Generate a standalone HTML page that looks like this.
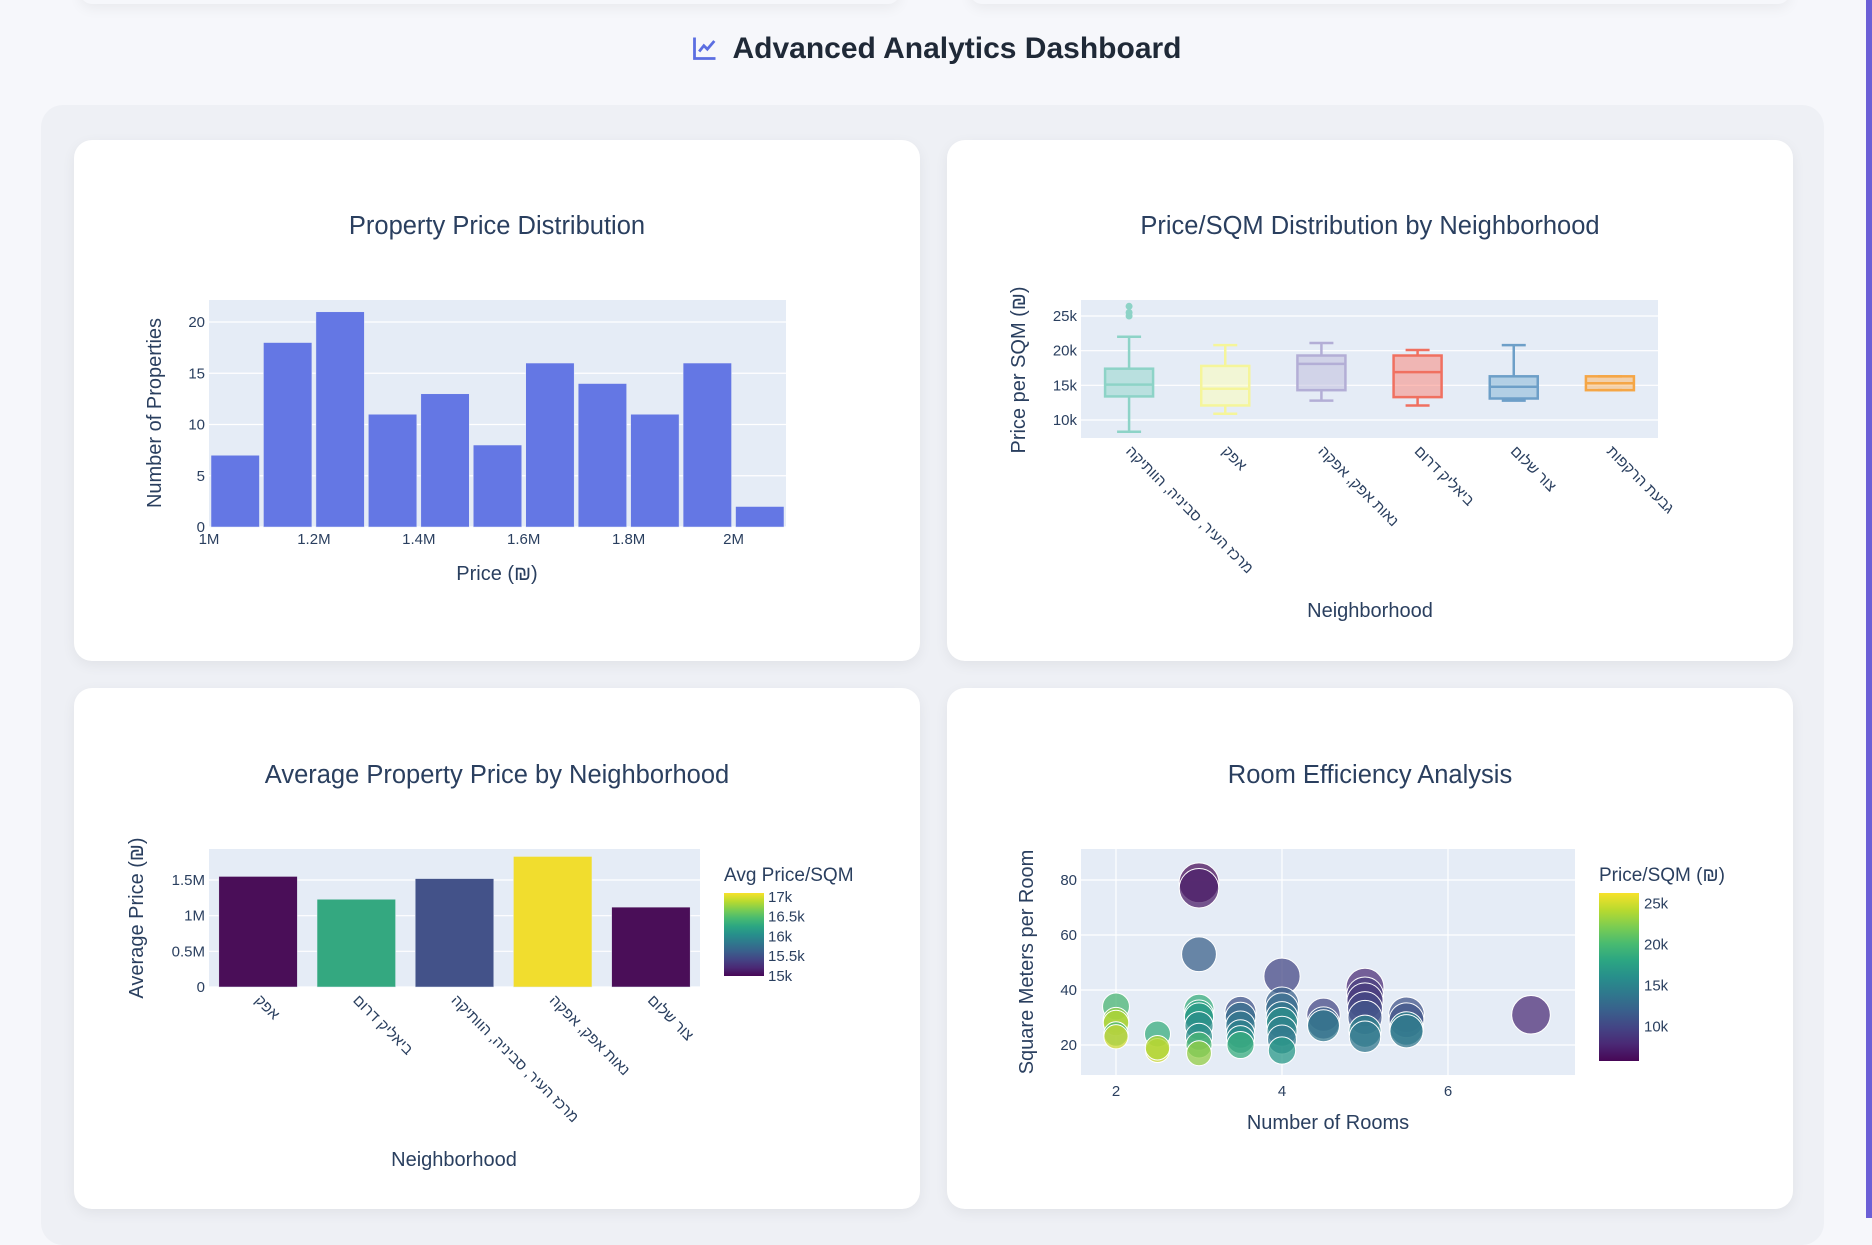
<!DOCTYPE html>
<html><head><meta charset="utf-8">
<style>
body{margin:0;width:1872px;height:1218px;overflow:hidden;background:#f6f7fb;font-family:"Liberation Sans","Noto Sans CJK SC",sans-serif;position:relative}
.card{position:absolute;background:#fff;border-radius:18px;box-shadow:0 4px 14px rgba(0,0,0,0.06)}
#outer{position:absolute;left:41px;top:105px;width:1783px;height:1140px;background:#eef0f5;border-radius:22px}
#title{position:absolute;top:32px;left:0;width:1872px;text-align:center;font-size:30px;font-weight:bold;color:#1f2937}
#sidebar{position:absolute;right:0;top:0;width:6px;height:1218px;background:#6b5fd6}
svg text{font-family:"Liberation Sans","Noto Sans CJK SC",sans-serif;fill:#2a3f5f}
</style></head><body>
<div style="position:absolute;left:80px;top:-20px;width:820px;height:24px;border-radius:12px;box-shadow:0 4px 14px rgba(0,0,0,0.06);background:#f6f7fb"></div>
<div style="position:absolute;left:970px;top:-20px;width:820px;height:24px;border-radius:12px;box-shadow:0 4px 14px rgba(0,0,0,0.06);background:#f6f7fb"></div>
<div id="sidebar"></div>
<div id="title"><svg width="30" height="28" viewBox="0 0 24 24" style="vertical-align:-4px;margin-right:12px"><path d="M3 3v18h18" fill="none" stroke="#5b6ee1" stroke-width="2.4"/><path d="M7 15l4-5 3 3 6-7" fill="none" stroke="#5b6ee1" stroke-width="2.4"/></svg>Advanced Analytics Dashboard</div>
<div id="outer"></div>
<div class="card" style="left:74px;top:140px;width:846px;height:521px"></div>
<div class="card" style="left:947px;top:140px;width:846px;height:521px"></div>
<div class="card" style="left:74px;top:688px;width:846px;height:521px"></div>
<div class="card" style="left:947px;top:688px;width:846px;height:521px"></div>
<svg id="chart" width="1872" height="1218" style="position:absolute;left:0;top:0"></svg>
<script>
// ---- Histogram data
const histBinStarts=[1.0,1.1,1.2,1.3,1.4,1.5,1.6,1.7,1.8,1.9,2.0];
const histCounts=[7,18,21,11,13,8,16,14,11,16,2];
const histXTicks=[1.0,1.2,1.4,1.6,1.8,2.0];
const histXTickLabels=["1M","1.2M","1.4M","1.6M","1.8M","2M"];
const histYTicks=[0,5,10,15,20];
// ---- Box data
const boxCats=["מרכז העיר, סביניה, הוותיקה","אפק","נאות אפק, אפקה","ביאליק דרום","צור שלום","גבעת הרקפות"];
const boxLow=[8.3,10.9,12.8,12.1,12.8,14.3];
const boxQ1=[13.4,12.1,14.3,13.3,13.1,14.3];
const boxMed=[15.1,14.5,18.1,16.9,14.8,15.3];
const boxQ3=[17.4,17.8,19.3,19.3,16.3,16.3];
const boxHigh=[22.0,20.8,21.1,20.1,20.8,16.3];
const boxOutliers=[[26.4,25.5,25.0],[],[],[],[],[]];
const boxYTicks=[10,15,20,25];
// ---- Avg price bars
const avgCats=["אפק","ביאליק דרום","מרכז העיר, סביניה, הוותיקה","נאות אפק, אפקה","צור שלום"];
const avgPrice=[1.55,1.23,1.52,1.83,1.12];
const avgPsqm=[15.0,16.3,15.5,17.1,15.0];
const avgYTicks=[0,0.5,1,1.5];
const avgYTickLabels=["0","0.5M","1M","1.5M"];
const avgCbTicks=[15,15.5,16,16.5,17];
// ---- Scatter data
const scRooms=[2,2,2,2,2,2.5,2.5,2.5,3,3,3,3,3,3,3,3,3,3,3.5,3.5,3.5,3.5,3.5,3.5,4,4,4,4,4,4,4,4,4.5,4.5,4.5,5,5,5,5,5,5,5,5.5,5.5,5.5,5.5,7];
const scSqmPerRoom=[34,29,28,24,23,24,18,19,79,77,53,33,31,30,27,23,20,17,32,30,27,24,22,20,45,35,33,30,28,25,22,18,31,28,27,41,38,36,33,30,25,23,31,29,26,25,31];
const scPsqm=[20,23,24,20,25,19,25,24,6,7,12,19,18,17,16,16,20,23,11,13,14,15,16,19,10,12,13,14,16,15,14,17,10,12,14,8,9,9,10,11,15,14,11,11,15,14,8];
const scXTicks=[2,4,6];
const scYTicks=[20,40,60,80];
const scCbTicks=[10,15,20,25];

const svg=document.getElementById('chart');
const NS='http://www.w3.org/2000/svg';
function mk(tag,attrs,parent){const e=document.createElementNS(NS,tag);for(const k in attrs)e.setAttribute(k,attrs[k]);(parent||svg).appendChild(e);return e;}
function txt(s,attrs,parent){const e=mk('text',attrs,parent);e.textContent=s;return e;}
const VIR=[[68,1,84],[72,40,120],[62,73,137],[49,104,142],[38,130,142],[31,158,137],[53,183,121],[110,206,88],[181,222,43],[253,231,37]];
function viridis(t,m){t=Math.max(0,Math.min(1,t));const p=t*(VIR.length-1);const i=Math.min(VIR.length-2,Math.floor(p));const f=p-i;m=m||0;const c=VIR[i].map((v,k)=>{let x=v+(VIR[i+1][k]-v)*f;return Math.round(x*(1-m)+128*m);});return `rgb(${c[0]},${c[1]},${c[2]})`;}
function lin(d0,d1,r0,r1){return v=>r0+(v-d0)/(d1-d0)*(r1-r0);}
function plotBg(x,y,w,h,name){const r=mk('rect',{x:x,y:y,width:w,height:h,fill:'#e5ecf6'});}
function hgrid(ticks,Y,x0,x1,labels,name){ticks.forEach((t,i)=>{const l=mk('line',{x1:x0,x2:x1,y1:Y(t),y2:Y(t),stroke:'#fff','stroke-width':1.2});const e=txt(labels?labels[i]:String(t),{x:x0-4,y:Y(t)+5,'text-anchor':'end','font-size':15});});}
function title(s,x,y,name){const e=txt(s,{x:x,y:y,'text-anchor':'middle','font-size':25.5});}
function axTitle(s,x,y,rot,name){const e=txt(s,{x:x,y:y,'text-anchor':'middle','font-size':20,transform:rot?`rotate(-90 ${x} ${y})`:''});}
function rotLabel(s,x,y,name){const e=txt(s,{x:x,y:y,'text-anchor':'start','font-size':15,transform:`rotate(45 ${x} ${y})`});}

// ===== Chart 1: histogram
{
const x0=209,x1=786,y0=300,y1=527;
const X=lin(1.0,2.1,x0,x1),Y=lin(0,22.15,y1,y0);
plotBg(x0,y0,x1-x0,y1-y0,'histogram-plot-area');
hgrid(histYTicks,Y,x0,x1,null,'histogram-y');
histBinStarts.forEach((b,i)=>{const r=mk('rect',{x:X(b)+2,y:Y(histCounts[i]),width:X(b+0.1)-X(b)-4,height:Y(0)-Y(histCounts[i]),fill:'#6477e4',stroke:'#e5ecf6','stroke-width':0.5});});
histXTicks.forEach((t,i)=>{const e=txt(histXTickLabels[i],{x:X(t),y:y1+17,'text-anchor':'middle','font-size':15});});
title('Property Price Distribution',497,234,'histogram-title');
axTitle('Price (₪)',497,580,false,'histogram-x-title');
axTitle('Number of Properties',161,413,true,'histogram-y-title');
}
// ===== Chart 2: box
{
const x0=1081,x1=1658,y0=300,y1=438;
const Y=lin(10,25,420,316);
const colors=['#8dd3c7','#ffffb3','#bebada','#fb8072','#80b1d3','#fdb462'];
const strokes=['#8dd3c7','#f5f59a','#b3aed6','#f07060','#6d9fc8','#f5a646'];
plotBg(x0,y0,x1-x0,y1-y0,'boxplot-plot-area');
hgrid(boxYTicks,Y,x0,x1,boxYTicks.map(t=>t+'k'),'boxplot-y');
const step=(x1-x0)/boxCats.length;
boxCats.forEach((c,i)=>{const cx=x0+step*(i+0.5),hw=24;const g=mk('g',{});
const sc=strokes[i];
mk('line',{x1:cx,x2:cx,y1:Y(boxHigh[i]),y2:Y(boxQ3[i]),stroke:sc,'stroke-width':2.5},g);
mk('line',{x1:cx,x2:cx,y1:Y(boxQ1[i]),y2:Y(boxLow[i]),stroke:sc,'stroke-width':2.5},g);
mk('line',{x1:cx-12,x2:cx+12,y1:Y(boxHigh[i]),y2:Y(boxHigh[i]),stroke:sc,'stroke-width':2.5},g);
mk('line',{x1:cx-12,x2:cx+12,y1:Y(boxLow[i]),y2:Y(boxLow[i]),stroke:sc,'stroke-width':2.5},g);
mk('rect',{x:cx-hw,y:Y(boxQ3[i]),width:hw*2,height:Y(boxQ1[i])-Y(boxQ3[i]),fill:colors[i],'fill-opacity':0.5,stroke:sc,'stroke-width':2.5},g);
mk('line',{x1:cx-hw,x2:cx+hw,y1:Y(boxMed[i]),y2:Y(boxMed[i]),stroke:sc,'stroke-width':2.5},g);
boxOutliers[i].forEach(o=>{const p=mk('circle',{cx:cx,cy:Y(o),r:3.5,fill:colors[i]},g);});
rotLabel(c,cx-4,y1+14,'boxplot-x-tick-label');});
title('Price/SQM Distribution by Neighborhood',1370,234,'boxplot-title');
axTitle('Neighborhood',1370,617,false,'boxplot-x-title');
axTitle('Price per SQM (₪)',1025,370,true,'boxplot-y-title');
}
// ===== Chart 3: avg price bars
{
const x0=209,x1=700,y0=849,y1=987;
const Y=lin(0,1.5,987,880);
const C=lin(15,17.1,0,1);
plotBg(x0,y0,x1-x0,y1-y0,'avg-price-plot-area');
hgrid(avgYTicks,Y,x0,x1,avgYTickLabels,'avg-price-y');
const step=(x1-x0)/avgCats.length;
avgCats.forEach((c,i)=>{const cx=x0+step*(i+0.5),w=step*0.8;const r=mk('rect',{x:cx-w/2,y:Y(avgPrice[i]),width:w,height:Y(0)-Y(avgPrice[i]),fill:viridis(C(avgPsqm[i]),0.1),stroke:'#e5ecf6','stroke-width':0.5});rotLabel(c,cx-4,y1+14,'avg-price-x-tick-label');});
// colorbar
const defs=mk('defs',{});const lg=mk('linearGradient',{id:'vg',x1:0,y1:1,x2:0,y2:0},defs);
for(let k=0;k<=10;k++)mk('stop',{offset:k/10,'stop-color':viridis(k/10,0.05)},lg);
const cbY=lin(15,17.1,976,893);
const cb=mk('rect',{x:724,y:893,width:40,height:83,fill:'url(#vg)'});
avgCbTicks.forEach(t=>{const e=txt(t+'k',{x:768,y:cbY(t)+5,'font-size':15});});
const ct=txt('Avg Price/SQM',{x:724,y:881,'font-size':19});
title('Average Property Price by Neighborhood',497,783,'avg-price-title');
axTitle('Neighborhood',454,1166,false,'avg-price-x-title');
axTitle('Average Price (₪)',143,918,true,'avg-price-y-title');
}
// ===== Chart 4: scatter
{
const x0=1081,x1=1575,y0=849,y1=1075;
const X=lin(2,6,1116,1448),Y=lin(20,80,1045,880);
const C=lin(5.8,26.3,0,1);
plotBg(x0,y0,x1-x0,y1-y0,'scatter-plot-area');
hgrid(scYTicks,Y,x0,x1,null,'scatter-y');
scXTicks.forEach(t=>{const l=mk('line',{x1:X(t),x2:X(t),y1:y0,y2:y1,stroke:'#fff','stroke-width':1.2});const e=txt(String(t),{x:X(t),y:y1+21,'text-anchor':'middle','font-size':15});});
scRooms.forEach((r,i)=>{const area=r*scSqmPerRoom[i];const rad=6+14*Math.sqrt(area/240);const c=mk('circle',{cx:X(r),cy:Y(scSqmPerRoom[i]),r:rad,fill:viridis(C(scPsqm[i]),0.1),'fill-opacity':0.75,stroke:'#fff','stroke-width':1});});
const cbY=lin(5.8,26.3,1061,893);
const cb=mk('rect',{x:1599,y:893,width:40,height:168,fill:'url(#vg)'});
scCbTicks.forEach(t=>{const e=txt(t+'k',{x:1644,y:cbY(t)+5,'font-size':15});});
const ct=txt('Price/SQM (₪)',{x:1599,y:881,'font-size':19});
title('Room Efficiency Analysis',1370,783,'scatter-title');
axTitle('Number of Rooms',1328,1129,false,'scatter-x-title');
axTitle('Square Meters per Room',1033,962,true,'scatter-y-title');
}
</script>
</body></html>
